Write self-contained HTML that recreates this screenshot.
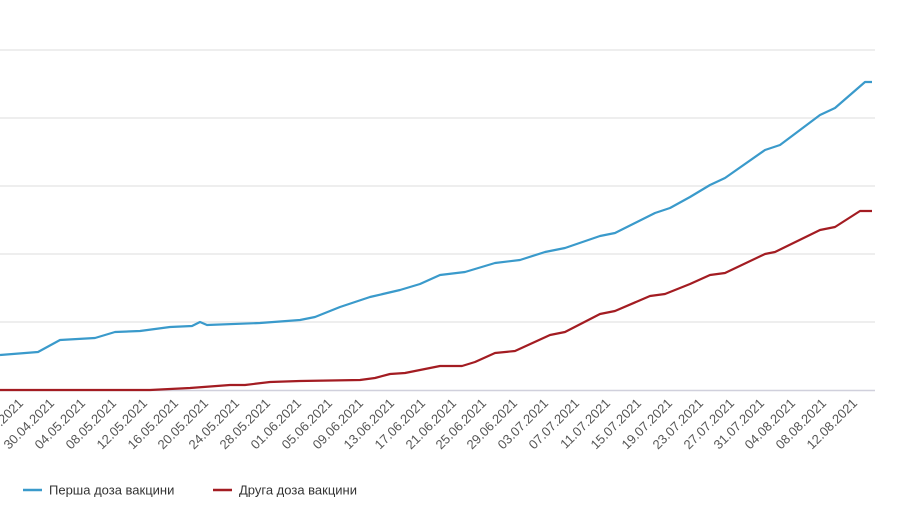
<!DOCTYPE html>
<html><head><meta charset="utf-8"><style>
html,body{margin:0;padding:0;background:#fff;width:900px;height:505px;overflow:hidden}
text{font-family:"Liberation Sans",sans-serif}
</style></head><body>
<svg width="900" height="505" viewBox="0 0 900 505">
<g stroke="#e8e8e8" stroke-width="1.5">
<line x1="0" y1="50" x2="875" y2="50"/><line x1="0" y1="118" x2="875" y2="118"/>
<line x1="0" y1="186" x2="875" y2="186"/><line x1="0" y1="254" x2="875" y2="254"/>
<line x1="0" y1="322" x2="875" y2="322"/></g>
<line x1="0" y1="390.5" x2="875" y2="390.5" stroke="#d0d0dc" stroke-width="1.5"/>
<polyline fill="none" stroke="#3a9acb" stroke-width="2.2" stroke-linejoin="round" points="0,355 38,352 60,340 95,338 115,332 140,331 170,327 192,326 200,322 207,325 260,323 300,320 315,317 340,307 370,297 400,290 420,284 440,275 465,272 495,263 520,260 545,252 565,248 600,236 615,233 655,213 670,208 690,197 710,185 725,178 765,150 780,145 820,115 835,108 865,82 872,82"/>
<polyline fill="none" stroke="#a31c22" stroke-width="2.2" stroke-linejoin="round" points="0,390 150,390 190,388 230,385 245,385 270,382 300,381 360,380 375,378 390,374 405,373 440,366 462,366 475,362 495,353 515,351 550,335 565,332 600,314 615,311 650,296 665,294 690,284 710,275 725,273 765,254 775,252 820,230 835,227 860,211 872,211"/>
<g fill="#555" font-size="13" text-anchor="end">
<text transform="translate(24,404) rotate(-45)">26.04.2021</text>
<text transform="translate(55,404) rotate(-45)">30.04.2021</text>
<text transform="translate(86,404) rotate(-45)">04.05.2021</text>
<text transform="translate(117,404) rotate(-45)">08.05.2021</text>
<text transform="translate(148,404) rotate(-45)">12.05.2021</text>
<text transform="translate(179,404) rotate(-45)">16.05.2021</text>
<text transform="translate(209,404) rotate(-45)">20.05.2021</text>
<text transform="translate(240,404) rotate(-45)">24.05.2021</text>
<text transform="translate(271,404) rotate(-45)">28.05.2021</text>
<text transform="translate(302,404) rotate(-45)">01.06.2021</text>
<text transform="translate(333,404) rotate(-45)">05.06.2021</text>
<text transform="translate(364,404) rotate(-45)">09.06.2021</text>
<text transform="translate(395,404) rotate(-45)">13.06.2021</text>
<text transform="translate(426,404) rotate(-45)">17.06.2021</text>
<text transform="translate(457,404) rotate(-45)">21.06.2021</text>
<text transform="translate(487,404) rotate(-45)">25.06.2021</text>
<text transform="translate(518,404) rotate(-45)">29.06.2021</text>
<text transform="translate(549,404) rotate(-45)">03.07.2021</text>
<text transform="translate(580,404) rotate(-45)">07.07.2021</text>
<text transform="translate(611,404) rotate(-45)">11.07.2021</text>
<text transform="translate(642,404) rotate(-45)">15.07.2021</text>
<text transform="translate(673,404) rotate(-45)">19.07.2021</text>
<text transform="translate(704,404) rotate(-45)">23.07.2021</text>
<text transform="translate(735,404) rotate(-45)">27.07.2021</text>
<text transform="translate(765,404) rotate(-45)">31.07.2021</text>
<text transform="translate(796,404) rotate(-45)">04.08.2021</text>
<text transform="translate(827,404) rotate(-45)">08.08.2021</text>
<text transform="translate(858,404) rotate(-45)">12.08.2021</text>
</g>
<line x1="23" y1="490" x2="42" y2="490" stroke="#3a9acb" stroke-width="2.5"/>
<text x="49" y="494.5" font-size="13" fill="#333">Перша доза вакцини</text>
<line x1="213" y1="490" x2="232" y2="490" stroke="#a31c22" stroke-width="2.5"/>
<text x="239" y="494.5" font-size="13" fill="#333">Друга доза вакцини</text>
</svg>
</body></html>
